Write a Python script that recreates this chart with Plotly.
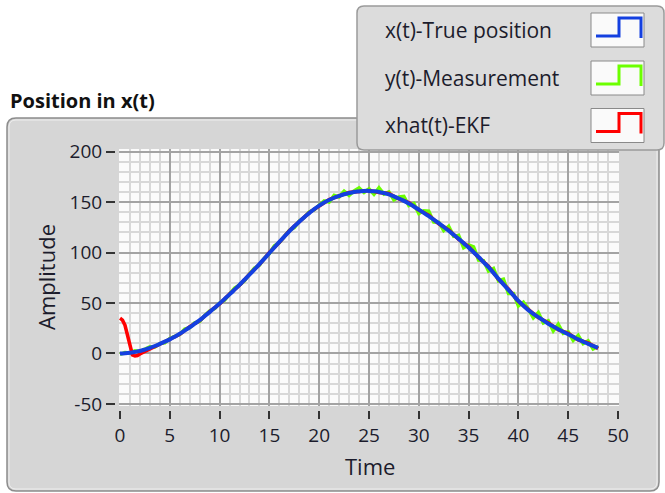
import plotly.graph_objects as go

# ---------------- data ----------------
t_half = [i * 0.5 for i in range(97)]  # 0 .. 48 step 0.5

true_pos = [0, 0.3, 0.8, 1.6, 2.5, 3.9, 5.5, 7.4, 9.5, 11.7,
            14, 16.7, 19.5, 22.7, 26, 29.5, 33, 37, 41, 45.2,
            49.5, 54, 58.5, 63.2, 68, 73, 78, 83.2, 88.5, 94,
            99.5, 105, 110.5, 115.8, 121, 126, 130.5, 135, 139, 143,
            146.5, 149.5, 152, 154.2, 156, 157.7, 159, 160, 160.5, 161,
            161, 160.6, 160, 158.9, 157.5, 155.6, 153.5, 151.1, 148.5, 145.6,
            142.5, 139.3, 136, 132.6, 129, 125.3, 121.5, 117.5, 113.5, 109.3,
            105, 100.2, 95.5, 90.5, 85.5, 79.8, 74, 68.5, 63, 57.5,
            52, 47.3, 43, 39.3, 36, 32.8, 29.5, 26.8, 24, 21.5,
            19, 16.5, 14, 11.8, 9.5, 7.5, 5.5]

measurement = [-0.8, 0.9, 0.5, 2.6, 2.0, 4.3, 6.7, 6.5, 9.8, 10.6,
               14.8, 16.9, 18.9, 24.1, 25.6, 30.4, 31.8, 37.5, 42.1, 44.5,
               49.8, 52.7, 59.1, 64.7, 67.8, 72.1, 78.7, 84.5, 87.5, 94.4,
               99.0, 106.6, 109.7, 116.0, 122.0, 124.6, 131.1, 134.7, 140.2, 142.4,
               147.3, 151.0, 150.0, 156.7, 155.0, 160.7, 156.5, 161.0, 164.0, 159.5,
               163.0, 157.6, 164.0, 157.9, 160.0, 152.1, 155.0, 155.6, 146.5, 148.6,
               138.5, 141.3, 141.0, 130.1, 130.0, 121.8, 126.0, 116.0, 117.0, 104.8,
               107.5, 105.7, 92.5, 92.0, 81.5, 84.2, 72.0, 73.5, 59.5, 59.5,
               47.0, 50.8, 44.0, 35.3, 40.5, 30.3, 32.5, 22.3, 29.0, 20.0,
               21.5, 13.0, 18.0, 9.8, 12.5, 4.5, 7.0]

t_ekf = [0, 0.25, 0.5, 0.75, 1.0, 1.25, 1.5, 1.75] + list(range(2, 49))
ekf = [35, 33, 28, 18, 6, -1.5, -2.5, -2,
       -0.5, 4.5, 9.0, 14.5, 19.0, 26.5, 32.5, 41.5, 49.0, 59.0,
       67.5, 78.5, 88.0, 100.0, 110.0, 121.5, 130.0, 139.5, 146.0, 152.5,
       156.0, 159.5, 160.5, 161.5, 159.5, 158.5, 153.0, 149.5, 142.0, 137.0,
       128.5, 122.5, 113.0, 106.0, 95.0, 86.5, 73.5, 64.0, 51.5, 44.0,
       35.5, 30.5, 23.5, 20.0, 13.5, 10.5, 5.0]

series_names = ["x(t)-True position", "y(t)-Measurement", "xhat(t)-EKF"]
series_colors = ["#1440e0", "#6cff00", "#ff0000"]

chart_title = "Position in x(t)"
x_title = "Time"
y_title = "Amplitude"
x_range = [-0.1, 50.1]
y_range = [-52, 202.5]
y_tick_values = [-50, 0, 50, 100, 150, 200]
y_tick_labels = ["-50", "0", "50", "100", "150", "200"]

# ---------------- layout geometry ----------------
W, H = 665, 493
ML, MR, MT, MB = 115, 46, 149, 83
PW = W - ML - MR
PH = H - MT - MB
FONT = "Open Sans"
TXT = "#1c1c2c"


def fx(px):
    return (px - ML) / PW


def fy(py):
    return (H - MB - py) / PH


def rounded(x0, y0, x1, y1, r):
    X0, X1 = fx(x0), fx(x1)
    Y0, Y1 = fy(y0), fy(y1)
    rx, ry = r / PW, r / PH
    return (f"M {X0 + rx},{Y0} L {X1 - rx},{Y0} Q {X1},{Y0} {X1},{Y0 - ry} "
            f"L {X1},{Y1 + ry} Q {X1},{Y1} {X1 - rx},{Y1} "
            f"L {X0 + rx},{Y1} Q {X0},{Y1} {X0},{Y1 + ry} "
            f"L {X0},{Y0 - ry} Q {X0},{Y0} {X0 + rx},{Y0} Z")


fig = go.Figure()

fig.add_trace(go.Scatter(x=t_half, y=measurement, mode="lines", name=series_names[1],
                         line=dict(color=series_colors[1], width=3.5), showlegend=False))
fig.add_trace(go.Scatter(x=t_ekf, y=ekf, mode="lines", name=series_names[2],
                         line=dict(color=series_colors[2], width=3.5), showlegend=False))
fig.add_trace(go.Scatter(x=t_half, y=true_pos, mode="lines", name=series_names[0],
                         line=dict(color=series_colors[0], width=4, shape="spline"),
                         showlegend=False))
# empty trace to host the tick axes
fig.add_trace(go.Scatter(x=[], y=[], xaxis="x2", yaxis="y2", showlegend=False))

shapes = []
# outer panel
shapes.append(dict(type="path", xref="paper", yref="paper", layer="below",
                   path=rounded(7, 118, 659, 491, 9),
                   fillcolor="#d6d6d6", line=dict(color="#8c8c8c", width=1.5)))
shapes.append(dict(type="path", xref="paper", yref="paper", layer="below",
                   path=rounded(9, 120, 657, 489, 7),
                   fillcolor="rgba(0,0,0,0)", line=dict(color="#eeeeee", width=1)))
# plot area background
shapes.append(dict(type="rect", xref="paper", yref="paper", layer="below",
                   x0=fx(119), x1=fx(619), y0=fy(406), y1=fy(149),
                   fillcolor="#fbfbfb", line=dict(width=0)))
# legend box
shapes.append(dict(type="path", xref="paper", yref="paper", layer="above",
                   path=rounded(357, 6, 664, 150, 7),
                   fillcolor="#dcdcdc", line=dict(color="#9a9a9a", width=1.5)))

annotations = []
row_centers = [30, 78, 125.5]
legend_order = [0, 1, 2]
for k, idx in enumerate(legend_order):
    cy = row_centers[k]
    annotations.append(dict(xref="paper", yref="paper", x=fx(383), y=fy(cy),
                            xanchor="left", yanchor="middle", showarrow=False,
                            text=series_names[idx],
                            font=dict(family=FONT, size=21, color=TXT)))
    by0 = cy - 17
    shapes.append(dict(type="rect", xref="paper", yref="paper", layer="above",
                       x0=fx(591), x1=fx(644), y0=fy(by0 + 34), y1=fy(by0),
                       fillcolor="#fafafa", line=dict(color="#8a8a8a", width=1)))
    step = (f"M {fx(596)},{fy(by0 + 23)} L {fx(619)},{fy(by0 + 23)} "
            f"L {fx(619)},{fy(by0 + 5)} L {fx(641)},{fy(by0 + 5)} "
            f"L {fx(641)},{fy(by0 + 25)}")
    shapes.append(dict(type="path", xref="paper", yref="paper", layer="above",
                       path=step, line=dict(color=series_colors[idx], width=3)))

annotations.append(dict(xref="paper", yref="paper", x=fx(8), y=fy(100),
                        xanchor="left", yanchor="middle", showarrow=False,
                        text=f"<b>{chart_title}</b>",
                        font=dict(family=FONT, size=20, color="#111111")))
annotations.append(dict(xref="paper", yref="paper", x=fx(46), y=fy(277),
                        xanchor="center", yanchor="middle", showarrow=False,
                        text=y_title, textangle=-90,
                        font=dict(family=FONT, size=22, color=TXT)))
annotations.append(dict(xref="paper", yref="paper", x=fx(369.5), y=fy(466),
                        xanchor="center", yanchor="middle", showarrow=False,
                        text=x_title,
                        font=dict(family=FONT, size=22, color=TXT)))

grid_major = "#a3a3a3"
grid_minor = "#d8d8d8"

fig.update_layout(
    width=W, height=H,
    margin=dict(l=ML, r=MR, t=MT, b=MB, pad=0),
    paper_bgcolor="white", plot_bgcolor="rgba(0,0,0,0)",
    shapes=shapes, annotations=annotations,
    showlegend=False,
    xaxis=dict(domain=[4 / PW, 1], range=x_range, dtick=5, tick0=0,
               showgrid=True, gridcolor=grid_major, gridwidth=2,
               minor=dict(dtick=1, showgrid=True, gridcolor=grid_minor, gridwidth=2),
               showticklabels=False, ticks="", zeroline=False, showline=False),
    yaxis=dict(domain=[4 / PH, 1], range=y_range, dtick=50, tick0=0,
               showgrid=True, gridcolor=grid_major, gridwidth=2,
               minor=dict(dtick=10, showgrid=True, gridcolor=grid_minor, gridwidth=2),
               showticklabels=False, ticks="", zeroline=False, showline=False),
    xaxis2=dict(overlaying="x", anchor="free", position=0, range=x_range,
                dtick=5, tick0=0, ticks="outside", ticklen=8, tickwidth=2,
                tickcolor="#333333", showgrid=False, zeroline=False, showline=False,
                tickfont=dict(family=FONT, size=19, color=TXT)),
    yaxis2=dict(overlaying="y", anchor="free", position=0, range=y_range,
                tickmode="array", tickvals=y_tick_values, ticktext=y_tick_labels,
                ticks="outside", ticklen=9, tickwidth=2,
                tickcolor="#333333", showgrid=False, zeroline=False, showline=False,
                tickfont=dict(family=FONT, size=19, color=TXT)),
)

fig.write_html("out.html")
